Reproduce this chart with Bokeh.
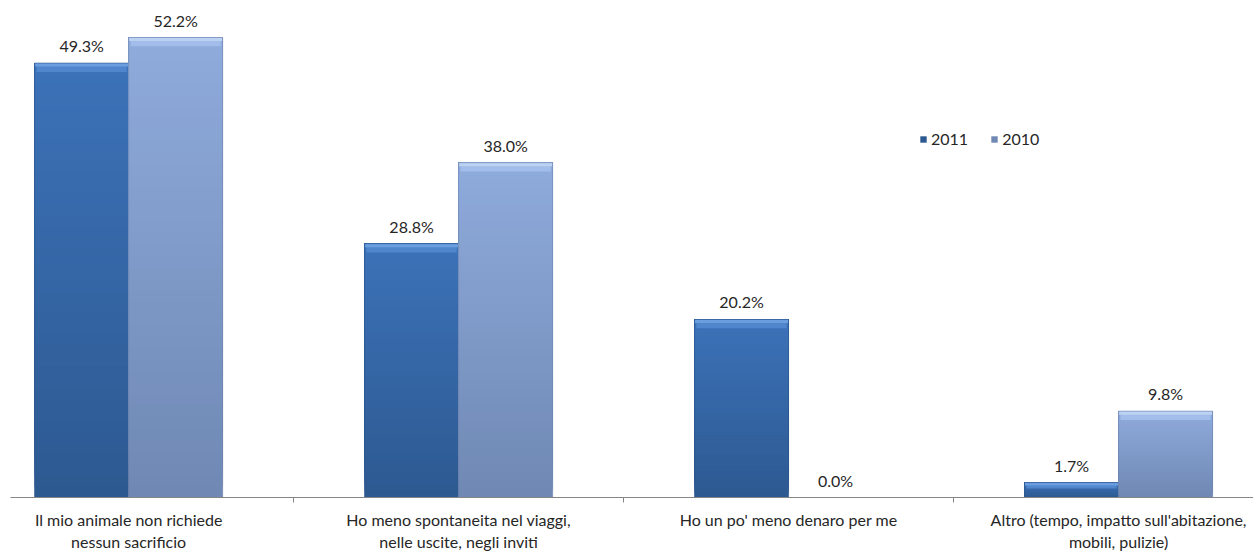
from bokeh.plotting import figure
from bokeh.models import FixedTicker, Legend, LegendItem, ColumnDataSource, Range1d
from bokeh.embed import file_html
from bokeh.resources import INLINE

categories = [
    "Il mio animale non richiede\nnessun sacrificio",
    "Ho meno spontaneita nel viaggi,\nnelle uscite, negli inviti",
    "Ho un po' meno denaro per me",
    "Altro (tempo, impatto sull'abitazione,\nmobili, pulizie)",
]
series_names = ["2011", "2010"]
values_2011 = [49.3, 28.8, 20.2, 1.7]
values_2010 = [52.2, 38.0, 0.0, 9.8]

FONT = "Lato"
TEXT_COLOR = "#262626"

p = figure(width=1253, height=554, output_backend="svg", toolbar_location=None,
           x_range=Range1d(-0.358, 3.409), y_range=Range1d(0, 56.4),
           min_border_left=10, min_border_right=0, min_border_top=0, min_border_bottom=54)
p.outline_line_color = None
p.grid.grid_line_color = None
p.yaxis.visible = False
p.background_fill_color = "white"
p.border_fill_color = "white"

xa = p.xaxis[0]
xa.ticker = FixedTicker(ticks=list(range(len(categories))),
                        minor_ticks=[i + 0.5 for i in range(len(categories) - 1)])
xa.major_label_overrides = {i: c for i, c in enumerate(categories)}
xa.major_tick_line_color = None
xa.major_tick_out = 0
xa.major_tick_in = 0
xa.minor_tick_out = 5
xa.minor_tick_in = 0
xa.minor_tick_line_color = "#868686"
xa.axis_line_color = "#868686"
xa.major_label_text_font = FONT
xa.major_label_text_font_size = "16px"
xa.major_label_text_color = TEXT_COLOR
xa.major_label_standoff = 7

bar_w = 0.285
offsets = [-bar_w / 2, bar_w / 2]
series_values = [values_2011, values_2010]
bottom_cols = [(0x2d, 0x59, 0x91), (0x6f, 0x88, 0xb3)]
top_cols = [(0x3c, 0x72, 0xb8), (0x8f, 0xab, 0xdc)]
bevel_cols = ["#4f86cc", "#a2bde9"]
bevel_hi_cols = ["#6b9ede", "#bcd2f3"]
edge_cols = ["#2a5488", "#6a82ae"]

def hexc(c):
    return "#%02x%02x%02x" % tuple(int(round(v)) for v in c)

N = 40
legend_items = []
for s, (vals, off) in enumerate(zip(series_values, offsets)):
    xs, bots, tops, cols = [], [], [], []
    for i, v in enumerate(vals):
        if v <= 0:
            continue
        for k in range(N):
            f = (k + 0.5) / N
            xs.append(i + off)
            bots.append(v * k / N)
            tops.append(v)
            cols.append(hexc([b + (t - b) * f for b, t in zip(bottom_cols[s], top_cols[s])]))
    src = ColumnDataSource(dict(x=xs, bottom=bots, top=tops, color=cols))
    r = p.vbar(x="x", bottom="bottom", top="top", width=bar_w, fill_color="color",
               line_color=None, source=src)
    # bevel at top
    bx = [i + off for i, v in enumerate(vals) if v > 0]
    bt = [v for v in vals if v > 0]
    bb = [v - min(1.0, v * 0.4) for v in vals if v > 0]
    bh = [v - min(0.4, v * 0.2) for v in vals if v > 0]
    p.vbar(x=bx, bottom=bb, top=bt, width=bar_w * 0.96, fill_color=bevel_cols[s], line_color=None)
    p.vbar(x=bx, bottom=bh, top=bt, width=bar_w * 0.99, fill_color=bevel_hi_cols[s], line_color=None)
    # outline
    p.vbar(x=bx, bottom=0, top=bt, width=bar_w, fill_color=None, line_color=edge_cols[s],
           line_width=1, line_alpha=0.6)
    # value labels
    p.text(x=[i + off for i in range(len(vals))], y=vals,
           text=["%.1f%%" % v for v in vals],
           text_align="center", text_baseline="bottom", y_offset=-8,
           text_font={"value": FONT}, text_font_size="16px", text_color=TEXT_COLOR)
    legend_items.append(LegendItem(label=series_names[s], renderers=[r]))

legend = Legend(items=legend_items, orientation="horizontal", location=(909, 349),
                border_line_color=None, background_fill_alpha=0,
                label_text_font=FONT, label_text_font_size="16px", label_text_color=TEXT_COLOR,
                glyph_width=8, glyph_height=8, spacing=22, padding=0, margin=0,
                label_standoff=4)
p.add_layout(legend)

open("out.html", "w").write(file_html(p, INLINE))
